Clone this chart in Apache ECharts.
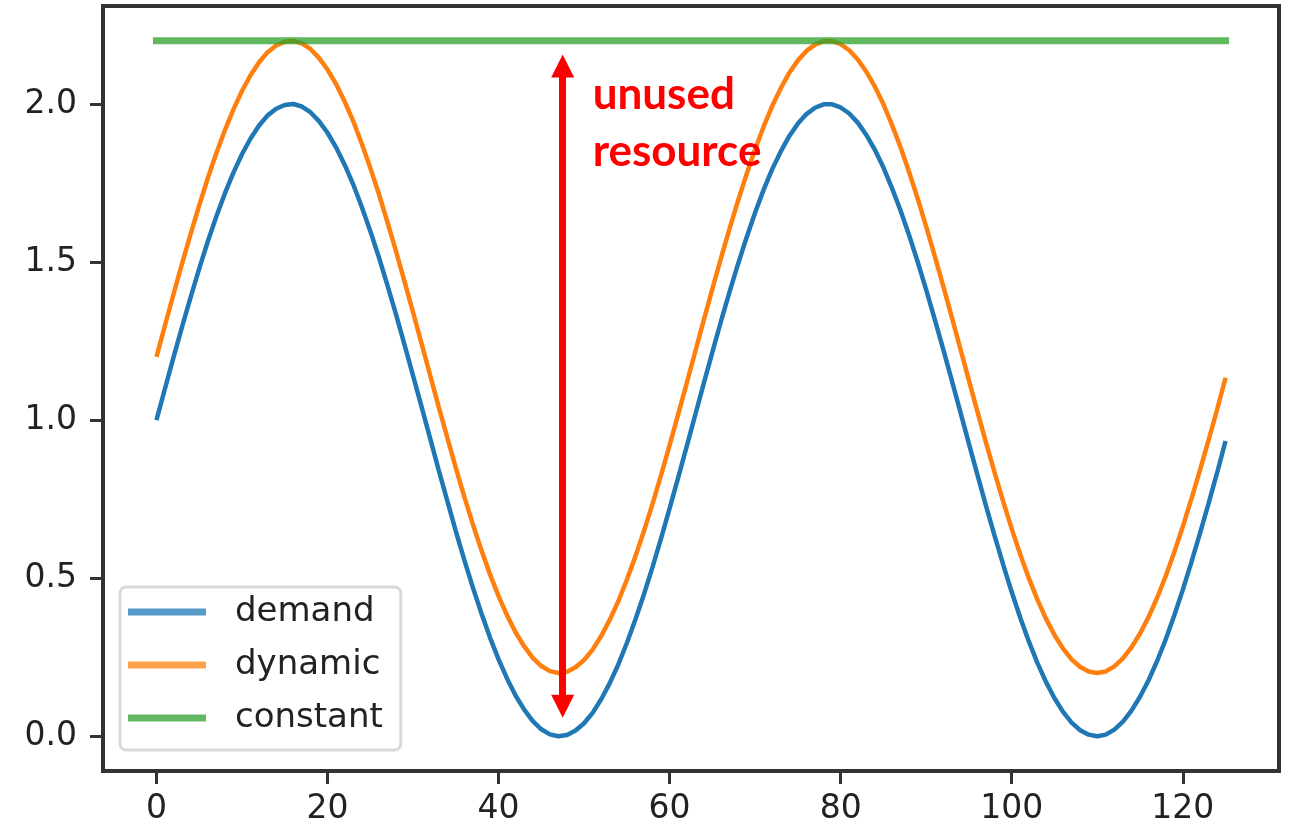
<!DOCTYPE html>
<html>
<head>
<meta charset="utf-8">
<script src="https://cdn.jsdelivr.net/npm/echarts@6/dist/echarts.min.js"></script>
<style>
html,body{margin:0;padding:0;background:#fff;}
#chart{width:1289px;height:828px;}
</style>
</head>
<body>
<div id="chart"></div>
<script>
const xs = [0,1,2,3,4,5,6,7,8,9,10,11,12,13,14,15,16,17,18,19,20,21,22,23,24,25,26,27,28,29,30,31,32,33,34,35,36,37,38,39,40,41,42,43,44,45,46,47,48,49,50,51,52,53,54,55,56,57,58,59,60,61,62,63,64,65,66,67,68,69,70,71,72,73,74,75,76,77,78,79,80,81,82,83,84,85,86,87,88,89,90,91,92,93,94,95,96,97,98,99,100,101,102,103,104,105,106,107,108,109,110,111,112,113,114,115,116,117,118,119,120,121,122,123,124,125];
const demand = [1.000,1.100,1.199,1.296,1.389,1.479,1.565,1.644,1.717,1.783,
1.841,1.891,1.932,1.964,1.985,1.997,2.000,1.992,1.974,1.946,
1.909,1.863,1.808,1.746,1.675,1.598,1.516,1.427,1.335,1.239,
1.141,1.042,0.942,0.842,0.745,0.649,0.557,0.470,0.388,0.312,
0.243,0.182,0.128,0.084,0.048,0.022,0.006,0.000,0.004,0.018,
0.041,0.074,0.117,0.168,0.227,0.295,0.369,0.449,0.535,0.626,
0.721,0.818,0.917,1.017,1.117,1.215,1.312,1.405,1.494,1.578,
1.657,1.729,1.794,1.850,1.899,1.938,1.968,1.988,1.999,1.999,
1.989,1.970,1.941,1.902,1.855,1.799,1.734,1.663,1.585,1.501,
1.412,1.319,1.223,1.125,1.025,0.925,0.826,0.728,0.634,0.543,
0.456,0.375,0.300,0.232,0.172,0.120,0.077,0.043,0.019,0.005,
0.000,0.005,0.021,0.046,0.081,0.125,0.177,0.238,0.306,0.382,
0.463,0.550,0.641,0.735,0.832,0.934];
const dynamic = [1.200,1.300,1.399,1.496,1.589,1.679,1.765,1.844,1.917,1.983,
2.041,2.091,2.132,2.164,2.185,2.197,2.200,2.192,2.174,2.146,
2.109,2.063,2.008,1.946,1.875,1.798,1.716,1.627,1.535,1.439,
1.341,1.242,1.142,1.042,0.945,0.849,0.757,0.670,0.588,0.512,
0.443,0.382,0.328,0.284,0.248,0.222,0.206,0.200,0.204,0.218,
0.241,0.274,0.317,0.368,0.427,0.495,0.569,0.649,0.735,0.826,
0.921,1.018,1.117,1.217,1.317,1.415,1.512,1.605,1.694,1.778,
1.857,1.929,1.994,2.050,2.099,2.138,2.168,2.188,2.199,2.199,
2.189,2.170,2.141,2.102,2.055,1.999,1.934,1.863,1.785,1.701,
1.612,1.519,1.423,1.325,1.225,1.125,1.026,0.928,0.834,0.743,
0.656,0.575,0.500,0.432,0.372,0.320,0.277,0.243,0.219,0.205,
0.200,0.205,0.221,0.246,0.281,0.325,0.377,0.438,0.506,0.582,
0.663,0.750,0.841,0.935,1.032,1.134];
const constX = [0, 125];
const constant = [2.2, 2.2];
const seriesNames = ['demand', 'dynamic', 'constant'];
const xTicks = [0, 20, 40, 60, 80, 100, 120];
const yTicks = [0, 0.5, 1.0, 1.5, 2.0];
const arrowX = 47.5;
const arrowFrom = 0.095;
const arrowTo = 2.12;
const annotationText = 'unused\nresource';
const annotationAt = [51.0, 1.94];

const zip = (a, b) => a.map((v, i) => [v, b[i]]);

const chart = echarts.init(document.getElementById('chart'), null, {renderer: 'canvas'});
const tickFont = {fontFamily: 'DejaVu Sans', fontSize: 33, color: '#222'};
chart.setOption({
  animation: false,
  backgroundColor: '#fff',
  grid: {left: 103, right: 10, top: 6, bottom: 57, show: true, borderColor: '#333', borderWidth: 4, backgroundColor: 'transparent'},
  xAxis: {
    type: 'value', min: -6.25, max: 131.25, position: 'bottom',
    axisLine: {show: false, onZero: false},
    splitLine: {show: false},
    axisTick: {show: true, inside: false, length: 13, lineStyle: {color: '#333', width: 3}, customValues: xTicks},
    axisLabel: Object.assign({show: true, margin: 22, customValues: xTicks, formatter: v => String(v)}, tickFont)
  },
  yAxis: {
    type: 'value', min: -0.11, max: 2.31, position: 'left',
    axisLine: {show: false, onZero: false},
    splitLine: {show: false},
    axisTick: {show: true, inside: false, length: 13, lineStyle: {color: '#333', width: 3}, customValues: yTicks},
    axisLabel: Object.assign({show: true, margin: 26, customValues: yTicks, formatter: v => v.toFixed(1)}, tickFont)
  },
  legend: {
    show: true, orient: 'vertical', left: 120, top: 587,
    padding: [5, 18, 12, 8],
    itemWidth: 78, itemHeight: 7, itemGap: 13,
    backgroundColor: '#fff', borderColor: '#d9d9d9', borderWidth: 3, borderRadius: 6,
    textStyle: {fontFamily: 'DejaVu Sans', fontSize: 34, color: '#222', lineHeight: 40, padding: [0, 0, 0, 24]},
    data: [
      {name: seriesNames[0], icon: 'rect', itemStyle: {color: '#5799c7'}},
      {name: seriesNames[1], icon: 'rect', itemStyle: {color: '#ffa04a'}},
      {name: seriesNames[2], icon: 'rect', itemStyle: {color: '#61b861'}}
    ]
  },
  series: [
    {
      name: seriesNames[0], type: 'line', data: zip(xs, demand), showSymbol: false, symbol: 'none',
      lineStyle: {color: '#1f77b4', width: 4.5}, itemStyle: {color: '#1f77b4'}, z: 2
    },
    {
      name: seriesNames[1], type: 'line', data: zip(xs, dynamic), showSymbol: false, symbol: 'none',
      lineStyle: {color: '#ff7f0e', width: 4.5}, itemStyle: {color: '#ff7f0e'}, z: 3
    },
    {
      name: seriesNames[2], type: 'line', data: zip(constX, constant), showSymbol: false, symbol: 'none',
      lineStyle: {color: 'rgba(44,160,44,0.75)', width: 7, cap: 'square'}, itemStyle: {color: '#2ca02c'}, z: 4,
      markLine: {
        silent: true, animation: false,
        symbol: ['triangle', 'triangle'], symbolSize: [23, 23],
        label: {show: false},
        lineStyle: {color: '#ff0000', width: 7, type: 'solid'},
        itemStyle: {color: '#ff0000'},
        data: [[{coord: [arrowX, arrowFrom]}, {coord: [arrowX, arrowTo]}]]
      },
      markPoint: {
        silent: true, animation: false,
        symbol: 'circle', symbolSize: 0,
        itemStyle: {color: 'transparent'},
        label: {show: true, position: 'right', distance: 0, formatter: annotationText,
          fontFamily: 'Lato', fontWeight: 'bold', fontSize: 44, lineHeight: 57, color: '#ff0000'},
        data: [{coord: annotationAt}]
      }
    }
  ]
});
</script>
</body>
</html>
